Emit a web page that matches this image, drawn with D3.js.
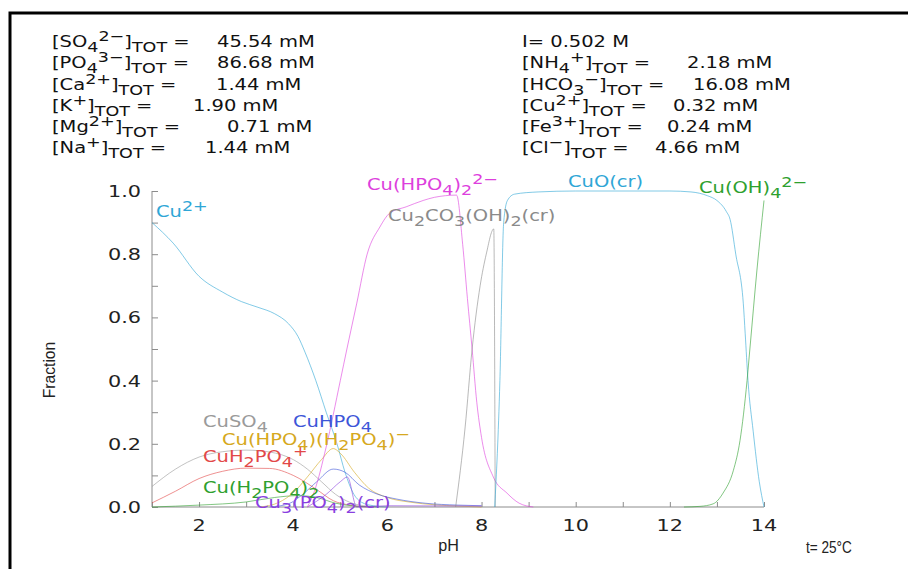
<!DOCTYPE html>
<html>
<head>
<meta charset="utf-8">
<script src="https://cdn.jsdelivr.net/npm/d3@7/dist/d3.min.js"></script>
<style>
  html, body { margin: 0; padding: 0; background: #fff; }
  svg { display: block; }
</style>
</head>
<body>
<svg id="chart" width="908" height="569"></svg>
<script>
// ---- Species fractions vs pH (pairs of [pH, fraction]) ----
const cu2Plus = [[1,0.90],[1.45,0.835],[2,0.73],[2.5,0.68],[2.9,0.65],[3.25,0.632],[3.6,0.612],[3.9,0.58],[4.1,0.54],[4.25,0.49],[4.48,0.40],[4.7,0.30],[4.93,0.20],[5.1,0.11],[5.27,0.045],[5.45,0.015],[5.7,0.004],[6,0]];
const cuSO4 = [[1,0.065],[1.5,0.12],[2,0.158],[2.5,0.175],[3,0.18],[3.5,0.174],[4,0.15],[4.3,0.12],[4.6,0.08],[4.9,0.04],[5.2,0.015],[5.5,0.004],[6,0]];
const cuH2PO4 = [[1,0.013],[1.5,0.05],[2,0.09],[2.5,0.113],[3,0.123],[3.5,0.122],[4,0.10],[4.5,0.055],[4.85,0.02],[5.2,0.006],[5.6,0]];
const cuH2PO4_2 = [[1,0],[2,0.006],[3,0.016],[3.6,0.03],[4.1,0.036],[4.5,0.03],[4.9,0.012],[5.3,0.003],[5.8,0]];
const cuHPO4H2PO4 = [[3.3,0],[3.7,0.015],[4,0.045],[4.3,0.095],[4.6,0.15],[4.85,0.185],[5.0,0.17],[5.3,0.11],[5.6,0.06],[6,0.03],[6.5,0.015],[7,0.007],[7.5,0.003],[8,0]];
const cuHPO4 = [[3.5,0],[3.9,0.01],[4.2,0.04],[4.5,0.08],[4.85,0.12],[5.1,0.11],[5.4,0.07],[5.8,0.04],[6.2,0.025],[6.8,0.012],[7.5,0.006],[8,0.004]];
const cu3PO4_2 = [[4.3,0],[4.7,0.04],[5.0,0.08],[5.15,0.095],[5.35,0],[6,0.004],[8,0.003]];
const cuHPO4_2 = [[4.3,0],[4.45,0.05],[4.7,0.19],[5.0,0.40],[5.14,0.50],[5.35,0.645],[5.57,0.80],[5.84,0.886],[6.05,0.93],[6.4,0.95],[6.76,0.97],[7.0,0.98],[7.47,0.987],[7.6,0.83],[7.7,0.66],[7.8,0.50],[7.9,0.33],[8.0,0.22],[8.25,0.095],[8.54,0.044],[8.8,0.012],[9.1,0]];
const cu2CO3OH2 = [[7.45,0],[7.65,0.25],[7.8,0.50],[7.97,0.70],[8.1,0.80],[8.26,0.88],[8.29,0]];
const cuO = [[8.28,0],[8.39,0.40],[8.47,0.90],[8.55,0.97],[8.7,0.99],[9.2,0.997],[10,1.0],[12,1.0],[12.45,0.997],[12.8,0.985],[13.0,0.97],[13.2,0.935],[13.28,0.91],[13.4,0.80],[13.56,0.645],[13.6,0.55],[13.66,0.40],[13.77,0.24],[13.9,0.08],[14,0]];
const cuOH4 = [[12.3,0],[12.64,0.002],[12.92,0.01],[13.13,0.044],[13.35,0.116],[13.49,0.21],[13.64,0.40],[13.7,0.50],[13.85,0.75],[14,0.97]];

// ---- Composition header ----
const leftLabels = ["[SO_4^{2−}]_{TOT} =", "[PO_4^{3−}]_{TOT} =", "[Ca^{2+}]_{TOT} =", "[K^+]_{TOT} =", "[Mg^{2+}]_{TOT} =", "[Na^+]_{TOT} ="];
const leftValues = ["45.54 mM", "86.68 mM", "1.44 mM", "1.90 mM", "0.71 mM", "1.44 mM"];
const rightLabels = ["I= 0.502 M", "[NH_4^+]_{TOT} =", "[HCO_3^−]_{TOT} =", "[Cu^{2+}]_{TOT} =", "[Fe^{3+}]_{TOT} =", "[Cl^−]_{TOT} ="];
const rightValues = ["", "2.18 mM", "16.08 mM", "0.32 mM", "0.24 mM", "4.66 mM"];

// ---- Axis ticks ----
const xTickValues = [2, 4, 6, 8, 10, 12, 14];
const yTickValues = [0.0, 0.2, 0.4, 0.6, 0.8, 1.0];

// ---- Series styling and label placement ----
const series = [
  { data: cu2Plus,     color: "#2fa6d6", label: "Cu^{2+}",                 lx: 156, ly: 217 },
  { data: cuSO4,       color: "#9a9a9a", label: "CuSO_4",                  lx: 203, ly: 427 },
  { data: cuH2PO4,     color: "#e24848", label: "CuH_2PO_4^+",             lx: 203, ly: 462 },
  { data: cuH2PO4_2,   color: "#2ea02e", label: "Cu(H_2PO_4)_2",           lx: 203, ly: 493 },
  { data: cuHPO4H2PO4, color: "#d6a820", label: "Cu(HPO_4)(H_2PO_4)^−",    lx: 222, ly: 445 },
  { data: cuHPO4,      color: "#3d55d8", label: "CuHPO_4",                 lx: 293, ly: 427 },
  { data: cu3PO4_2,    color: "#8a3fe0", label: "Cu_3(PO_4)_2(cr)",        lx: 255, ly: 508 },
  { data: cuHPO4_2,    color: "#dd3fdd", label: "Cu(HPO_4)_2^{2−}",        lx: 367, ly: 190 },
  { data: cu2CO3OH2,   color: "#8a8a8a", label: "Cu_2CO_3(OH)_2(cr)",      lx: 388, ly: 221 },
  { data: cuO,         color: "#2fa6d6", label: "CuO(cr)",                 lx: 568, ly: 187 },
  { data: cuOH4,       color: "#2ea02e", label: "Cu(OH)_4^{2−}",           lx: 699, ly: 193 }
];

const SX = 1.3;               // horizontal stretch of the lettering
const FONT = "'DejaVu Sans', Verdana, sans-serif";
const TITLE_FONT = "'Liberation Sans', Arial, sans-serif";

const svg = d3.select("#chart");
svg.append("rect").attr("width", 908).attr("height", 569).attr("fill", "#fff");

// frame
svg.append("path")
  .attr("d", "M10,575 V13 H915")
  .attr("fill", "none").attr("stroke", "#000").attr("stroke-width", 3);

// parse "_x", "_{..}", "^x", "^{..}" into [text, kind] pieces
function parseRich(str) {
  const out = [];
  let i = 0, buf = "";
  while (i < str.length) {
    const c = str[i];
    if (c === "_" || c === "^") {
      if (buf) { out.push([buf, ""]); buf = ""; }
      const kind = c === "_" ? "sub" : "sup";
      let s;
      if (str[i + 1] === "{") {
        const j = str.indexOf("}", i);
        s = str.slice(i + 2, j); i = j + 1;
      } else { s = str[i + 1]; i += 2; }
      out.push([s, kind]);
    } else { buf += c; i++; }
  }
  if (buf) out.push([buf, ""]);
  return out;
}

function richText(parent, x, y, str, size, color, anchor) {
  const t = parent.append("text")
    .attr("transform", `translate(${x},${y}) scale(${SX},1)`)
    .attr("font-family", FONT)
    .attr("font-size", size)
    .attr("fill", color)
    .attr("text-anchor", anchor || "start");
  let shift = 0;
  parseRich(str).forEach(([s, k]) => {
    const target = k === "sub" ? size * 0.3 : k === "sup" ? -size * 0.38 : 0;
    t.append("tspan")
      .attr("dy", target - shift)
      .attr("font-size", k ? size * 0.9 : size)
      .text(s);
    shift = target;
  });
  return t;
}

// ---- header block ----
const header = svg.append("g");
const rowY = [47, 68, 90, 111, 132, 153];
const leftValueX = [217, 217, 216, 193, 227, 205];
const rightValueX = [0, 687, 693, 673, 667, 655];
leftLabels.forEach((l, i) => {
  richText(header, 52, rowY[i], l, 15, "#111");
  richText(header, leftValueX[i], rowY[i], leftValues[i], 15, "#111");
});
rightLabels.forEach((l, i) => {
  richText(header, 522, rowY[i], l, 15, "#111");
  if (rightValues[i]) richText(header, rightValueX[i], rowY[i], rightValues[i], 15, "#111");
});

// ---- scales ----
const x = d3.scaleLinear().domain([1, 14]).range([152, 764]);
const y = d3.scaleLinear().domain([0, 1]).range([507, 191]);

const axisColor = "#8c8c8c";

// y axis: line, inward ticks every 0.1, labels every 0.2
const yAxis = svg.append("g").attr("transform", `translate(${x(1)},0)`)
  .call(d3.axisRight(y).tickValues(d3.range(0, 1.0001, 0.1)).tickSize(6).tickFormat(""));
yAxis.select(".domain").attr("d", `M0,${y(0)}V${y(1)}`).attr("stroke", axisColor);
yAxis.selectAll(".tick line").attr("stroke", axisColor);

yTickValues.forEach(v => {
  richText(svg, 141, y(v) + 6, d3.format(".1f")(v), 16, "#222", "end");
});

// x axis: line, inward ticks every unit, labels every 2
const xAxis = svg.append("g").attr("transform", `translate(0,${y(0)})`)
  .call(d3.axisTop(x).tickValues(d3.range(1, 15)).tickSize(5).tickFormat(""));
xAxis.select(".domain").attr("d", `M${x(1)},0H${x(14)}`).attr("stroke", axisColor);
xAxis.selectAll(".tick line").attr("stroke", axisColor);

xTickValues.forEach(v => {
  richText(svg, x(v), 531, String(v), 16, "#222", "middle");
});

// axis titles
svg.append("text")
  .attr("transform", `translate(55,370) rotate(-90) scale(0.92,1)`)
  .attr("text-anchor", "middle")
  .attr("font-family", TITLE_FONT)
  .attr("font-size", 17).attr("fill", "#222")
  .text("Fraction");
svg.append("text")
  .attr("transform", `translate(${x(7.3)},551) scale(0.95,1)`)
  .attr("text-anchor", "middle")
  .attr("font-family", TITLE_FONT)
  .attr("font-size", 17).attr("fill", "#222")
  .text("pH");
svg.append("text")
  .attr("transform", "translate(806,553) scale(0.8,1)")
  .attr("font-family", TITLE_FONT)
  .attr("font-size", 17).attr("fill", "#222")
  .text("t= 25°C");

// ---- curves ----
const line = d3.line()
  .x(d => x(d[0]))
  .y(d => y(d[1]))
  .curve(d3.curveMonotoneX);

const curves = svg.append("g").attr("fill", "none").attr("stroke-width", 1);
series.forEach(s => {
  curves.append("path")
    .attr("d", line(s.data))
    .attr("stroke", s.color)
    .attr("stroke-opacity", 0.6);
});

// ---- species labels ----
series.forEach(s => {
  richText(svg, s.lx, s.ly, s.label, 15, s.color);
});
</script>
</body>
</html>
